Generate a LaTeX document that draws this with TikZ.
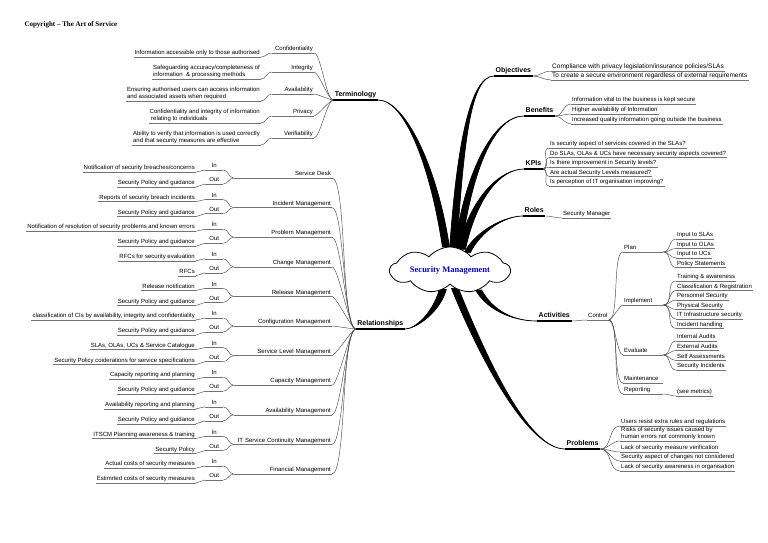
\documentclass[tikz,border=0pt]{standalone}
\usepackage{fontspec}
\setmainfont{Liberation Sans}
\newfontfamily\serifface{Liberation Serif}
\usetikzlibrary{calc,shapes.symbols,backgrounds}

% tapered main branch: from, to, out vector, in vector, half width
\newcommand\limb[5]{%
  \filldraw[limb] ($(#1)+(#5)$) .. controls +(#3) and +(#4) .. (#2)
    .. controls +(#4) and +(#3) .. ($(#1)-(#5)$) -- cycle;}

\begin{document}
\begin{tikzpicture}[
  x=1pt, y=-1pt,
  font=\fontsize{6}{7}\selectfont,
  hub/.style={
    cloud, cloud puffs=9, cloud puff arc=100, cloud ignores aspect,
    draw, fill=white, line width=.8pt,
    inner sep=0pt, minimum width=120pt, minimum height=46pt,
    font=\serifface\bfseries\fontsize{8.5}{10}\selectfont,
    text=blue!80!black
  },
  main/.style={
    font=\bfseries\fontsize{7}{8}\selectfont,
    inner sep=1.5pt, text depth=1.4pt,
    append after command={(\tikzlastnode.south west) edge[mainline] (\tikzlastnode.south east)}
  },
  leaf/.style={
    inner sep=1pt, text depth=1.2pt,
    append after command={(\tikzlastnode.south west) edge[uline] (\tikzlastnode.south east)}
  },
  mainline/.style={draw=black, line width=1.3pt},
  uline/.style={draw=black!55, line width=.6pt},
  link/.style={draw=black!70, line width=.45pt},
  limb/.style={fill=black, draw=black, line width=.7pt, line join=round}
]
\path[use as bounding box] (0,0) rectangle (768,543);

\node[font=\serifface\bfseries\fontsize{7}{8}\selectfont, anchor=west] (cpy) at (21,25)
  {Copyright – The Art of Service};

\node[hub] (sm) at (450,270) {Security Management};

% main topics
\node[main, anchor=south east] (trm) at (378,100) {Terminology};
\node[main, anchor=south east] (rel) at (405,329) {Relationships};
\node[main, anchor=south west] (obj) at (494,76) {Objectives};
\node[main, anchor=south west] (ben) at (524,116) {Benefits};
\node[main, anchor=south west] (kpi) at (524,169) {KPIs};
\node[main, anchor=south west] (rol) at (523,216) {Roles};
\node[main, anchor=south west] (act) at (537,321) {Activities};
\node[main, anchor=south west] (prb) at (565,449) {Problems};

% terminology
\foreach \t/\ty/\d/\dy [count=\i] in {
  Confidentiality/53/{Information accessible only to those authorised}/57,
  Integrity/72/{Safeguarding accuracy/completeness of\\information \ \& processing methods}/79,
  Availability/94/{Ensuring authorised users can access information\\and associated assets when required}/101,
  Privacy/116/{Confidentiality and integrity of information\\\hspace*{1.5pt}relating to individuals}/123,
  Verifiability/138/{Ability to verify that information is used correctly\\and that security measures are effective}/145}
{
  \node[leaf, anchor=south east, text width=40pt, align=right] (tm\i) at (314,\ty) {\t};
  \node[leaf, anchor=south east, align=left] (td\i) at (261,\dy) {\d};
  \draw[link] (trm.south west) to[out=180, in=0, looseness=.35] (tm\i.south east);
  \draw[link] (tm\i.south west) to[out=180, in=0] (td\i.south east);
}

% relationships
\foreach \m/\a/\b [count=\i from 0] in {
  {Service Desk}/{Notification of security breaches/concerns}/{Security Policy and guidance},
  {Incident Management}/{Reports of security breach incidents}/{Security Policy and guidance},
  {Problem Management}/{Notification of resolution of security problems and known errors}/{Security Policy and guidance},
  {Change Management}/{RFCs for security evaluation}/{RFCs},
  {Release Management}/{Release notification}/{Security Policy and guidance},
  {Configuration Management}/{classification of CIs by availability, integrity and confidentiality}/{Security Policy and guidance},
  {Service Level Management}/{SLAs, OLAs, UCs \& Service Catalogue}/{Security Policy coiderations for service specifications},
  {Capacity Management}/{Capacity reporting and planning}/{Security Policy and guidance},
  {Availability Management}/{Availability reporting and planning}/{Security Policy and guidance},
  {IT Service Continuity Management}/{ITSCM Planning awareness \& training}/{Security Policy},
  {Financial Management}/{Actual costs of security measures}/{Estimrted costs of security measures}}
{
  \pgfmathsetmacro\yb{178+29.6*\i}
  \node[leaf, anchor=south east, text width=96pt, align=right] (mg\i) at (332,\yb) {\m};
  \node[leaf, anchor=south west, text width=16pt, align=center] (il\i) at (205,{\yb-8}) {In};
  \node[leaf, anchor=south west, text width=16pt, align=center] (ol\i) at (205,{\yb+6}) {Out};
  \node[leaf, anchor=south east] (ix\i) at (196,{\yb-6}) {\a};
  \node[leaf, anchor=south east] (ox\i) at (196,{\yb+9}) {\b};
  \draw[link] (ix\i.south east) to[out=0, in=180] (il\i.south west);
  \draw[link] (ox\i.south east) to[out=0, in=180] (ol\i.south west);
  \draw[link] (il\i.south east) to[out=0, in=180] (mg\i.south west);
  \draw[link] (ol\i.south east) to[out=0, in=180] (mg\i.south west);
  \draw[link] (mg\i.south east) to[out=0, in=180, looseness=.25] (rel.south west);
}

% objectives
\foreach \t/\y [count=\i] in {
  {Compliance with privacy legislation/insurance policies/SLAs}/71,
  {To create a secure environment regardless of external requirements}/80}
{
  \node[leaf, anchor=south west, font=\fontsize{6.5}{7}\selectfont] (ob\i) at (551,\y) {\t};
  \draw[link] (obj.south east) to[out=0, in=180] (ob\i.south west);
}

% benefits
\foreach \t/\y [count=\i] in {
  {Information vital to the business is kept secure}/104,
  {Higher availability of Information}/114,
  {Increased quality information going outside the business}/124}
{
  \node[leaf, anchor=south west] (bn\i) at (571,\y) {\t};
  \draw[link] (ben.south east) to[out=0, in=180] (bn\i.south west);
}

% kpis
\foreach \t/\y [count=\i] in {
  {Is security aspect of services covered in the SLAs?}/148,
  {Do SLAs, OLAs \& UCs have necessary security aspects covered?}/157.5,
  {Is there improvement in Security levels?}/167,
  {Are actual Security Levels measured?}/176.5,
  {Is perception of IT organisation improving?}/186}
{
  \node[leaf, anchor=south west] (kp\i) at (549,\y) {\t};
  \draw[link] (kpi.south east) to[out=0, in=180] (kp\i.south west);
}

% roles
\node[leaf, anchor=south west] (rl1) at (562,218) {Security Manager};
\draw[link] (rol.south east) to[out=0, in=180] (rl1.south west);

% activities
\node[leaf, anchor=south west] (ctl) at (587,320) {Control};
\draw[link] (act.south east) to[out=0, in=180] (ctl.south west);
\foreach \n/\t/\y in {pln/Plan/252, imp/Implement/305, evl/Evaluate/355,
  mnt/Maintenance/383, rpt/Reporting/394}
{
  \node[leaf, anchor=south west, text width=38pt] (\n) at (623,\y) {\t};
  \draw[link] (ctl.south east) to[out=0, in=180, looseness=.4] (\n.south west);
}
\foreach \t/\y [count=\i] in {
  {Input to SLAs}/239, {Input to OLAs}/248.5, {Input to UCs}/258, {Policy Statements}/267.5}
{
  \node[leaf, anchor=south west] (pl\i) at (676,\y) {\t};
  \draw[link] (pln.south east) to[out=0, in=180] (pl\i.south west);
}
\foreach \t/\y [count=\i] in {
  {Training \& awareness}/281, {Classification \& Registration}/290.5,
  {Personnel Security}/300, {Physical Security}/309.5,
  {IT Infrastructure security}/319, {Incident handling}/328.5}
{
  \node[leaf, anchor=south west] (im\i) at (676,\y) {\t};
  \draw[link] (imp.south east) to[out=0, in=180] (im\i.south west);
}
\foreach \t/\y [count=\i] in {
  {Internal Audits}/341, {External Audits}/350.5,
  {Self Assessments}/360.5, {Security Incidents}/370}
{
  \node[leaf, anchor=south west] (ev\i) at (676,\y) {\t};
  \draw[link] (evl.south east) to[out=0, in=180] (ev\i.south west);
}
\node[leaf, anchor=south west] (rp1) at (676,396) {(see metrics)};
\draw[link] (rpt.south east) to[out=0, in=180] (rp1.south west);

% problems
\foreach \t/\y [count=\i] in {
  {Users resist extra rules and regulations}/426,
  {Risks of security issues caused by\\human errors not commonly known}/441,
  {Lack of security measure verification}/452,
  {Security aspect of changes not considered}/461,
  {Lack of security awareness in organisation}/471}
{
  \node[leaf, anchor=south west, align=left] (pr\i) at (620,\y) {\t};
  \draw[link] (prb.south east) to[out=0, in=180] (pr\i.south west);
}

% thick branches from the centre
\begin{scope}[on background layer]
  \limb{sm.100}{trm.south east}{-12,-80}{27,0}{3.5,0}
  \limb{sm.82}{obj.south west}{7,-100}{-24,0}{3.5,0}
  \limb{sm.70}{ben.south west}{11,-80}{-29,0}{3.5,0}
  \limb{sm.60}{kpi.south west}{11,-51}{-24,0}{3.5,0}
  \limb{sm.45}{rol.south west}{11,-22}{-18,0}{3,0}
  \limb{sm.-35}{act.south west}{10,18}{-27,0}{3,0}
  \limb{sm.-75}{prb.south west}{32,79}{-35,0}{3.5,0}
  \limb{sm.-110}{rel.south east}{-7,24}{10,0}{3.5,0}
\end{scope}
\end{tikzpicture}
\end{document}
